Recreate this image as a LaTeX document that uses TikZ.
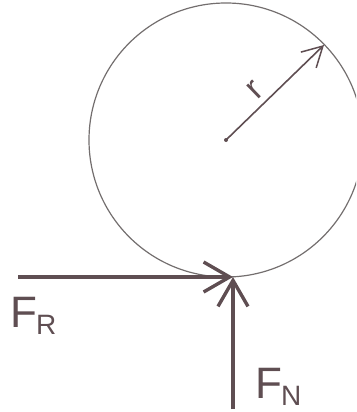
\documentclass[tikz,border=0pt]{standalone}
\usepackage{fontspec}
\setmainfont{Liberation Sans}
\usetikzlibrary{arrows.meta}
\definecolor{ink}{RGB}{95,78,82}
\definecolor{pencil}{RGB}{115,110,110}
\tikzset{
  force/.style={draw=ink, line width=3.6pt, -{Straight Barb[length=26pt,width=30pt,line width=3.4pt]}},
  radarrow/.style={draw=ink, line width=1.6pt, -{Straight Barb[length=20pt,width=22pt,line width=1.5pt]}},
  lbl/.style={text=ink, inner sep=0pt, font=\fontsize{44}{44}\selectfont},
}
\newcommand{\subtxt}[1]{\kern-1pt\raisebox{-7pt}{\fontsize{28}{28}\selectfont #1}}
\begin{document}
\begin{tikzpicture}[x=1pt,y=-1pt]
\useasboundingbox (0,0) rectangle (356,412);
\clip (0,0) rectangle (356,412);
\coordinate (c) at (226,140);
\draw[pencil, line width=1.2pt] (c) circle[radius=137];
\fill[ink] (c) circle[radius=2];
\coordinate (rim) at (324,45);
\draw[radarrow] (c) -- (rim);
\node[lbl, rotate=44, font=\fontsize{34}{34}\selectfont] (rl) at (255,90) {r};
\coordinate (contact) at (233,277);
\coordinate (fr0) at (18,277);
\coordinate (fn0) at (233,409);
\draw[force] (fr0) -- (contact);
\draw[force] (fn0) -- (contact);
\node[lbl, anchor=base west] (frl) at (10,327) {F\subtxt{R}};
\node[lbl, anchor=base west] (fnl) at (255,398) {F\subtxt{N}};
\end{tikzpicture}
\end{document}
